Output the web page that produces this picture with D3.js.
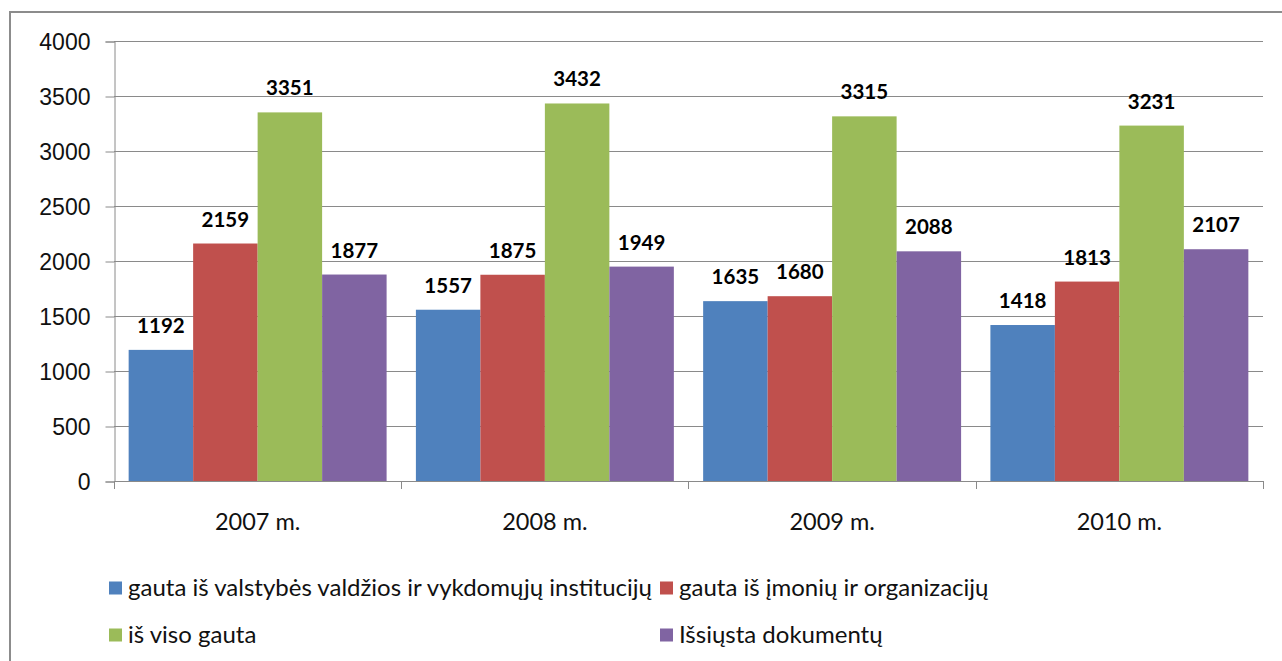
<!DOCTYPE html>
<html>
<head>
<meta charset="utf-8">
<script src="https://cdn.jsdelivr.net/npm/d3@7"></script>
<style>
  html, body { margin: 0; padding: 0; background: #fff; }
  svg { display: block; font-family: Lato, "Open Sans", sans-serif; }
</style>
</head>
<body>
<svg id="chart" width="1282" height="661"></svg>
<script>
// Document flow per year
const years = ["2007 m.", "2008 m.", "2009 m.", "2010 m."];
const seriesNames = [
  "gauta iš valstybės valdžios ir vykdomųjų institucijų",
  "gauta iš įmonių ir organizacijų",
  "iš viso gauta",
  "Išsiųsta dokumentų"
];
const fromGovernment = [1192, 1557, 1635, 1418];
const fromCompanies = [2159, 1875, 1680, 1813];
const totalReceived = [3351, 3432, 3315, 3231];
const sentDocuments = [1877, 1949, 2088, 2107];
const yTicks = [0, 500, 1000, 1500, 2000, 2500, 3000, 3500, 4000];
const colors = ["#4F81BD", "#C0504D", "#9BBB59", "#8064A2"];

const seriesValues = [fromGovernment, fromCompanies, totalReceived, sentDocuments];

const svg = d3.select("#chart");
const plot = { left: 114, right: 1263, top: 41, bottom: 481 };
const gridColor = "#8a8a8a";
const textColor = "#111";

// Outer chart frame
svg.append("rect")
  .attr("x", 10).attr("y", 12)
  .attr("width", 1290).attr("height", 700)
  .attr("fill", "none").attr("stroke", "#8c8c8c").attr("stroke-width", 2);

const y = d3.scaleLinear().domain([0, 4000]).range([plot.bottom, plot.top]);
const x0 = d3.scaleBand().domain(years).range([plot.left, plot.right])
  .paddingInner(0.102).paddingOuter(0.051);
const x1 = d3.scaleBand().domain(d3.range(seriesNames.length))
  .range([0, x0.bandwidth()]);

// Horizontal gridlines
svg.append("g").selectAll("line").data(yTicks).join("line")
  .attr("x1", plot.left).attr("x2", plot.right)
  .attr("y1", d => Math.round(y(d)) + 0.5).attr("y2", d => Math.round(y(d)) + 0.5)
  .attr("stroke", gridColor).attr("stroke-width", 1);

// Y axis
const yAxis = svg.append("g")
  .attr("transform", `translate(${plot.left + 0.5},0.5)`)
  .call(d3.axisLeft(y).tickValues(yTicks).tickSize(9).tickPadding(15).tickFormat(d3.format("d")));
yAxis.select(".domain").attr("stroke", gridColor);
yAxis.selectAll(".tick line").attr("stroke", gridColor);
yAxis.selectAll(".tick text")
  .attr("fill", textColor).style("font-size", "23px").attr("dy", "0.36em");

// Category separator ticks below the axis
const sepX = years.map(d => x0(d) - x0.step() * x0.paddingInner() / 2).concat([plot.right]);
sepX[0] = plot.left;
svg.append("g").selectAll("line").data(sepX).join("line")
  .attr("x1", d => Math.round(d) + 0.5).attr("x2", d => Math.round(d) + 0.5)
  .attr("y1", plot.bottom).attr("y2", plot.bottom + 8)
  .attr("stroke", gridColor);

// Category labels
svg.append("g").selectAll("text").data(years).join("text")
  .attr("x", d => x0(d) + x0.bandwidth() / 2)
  .attr("y", 530)
  .attr("text-anchor", "middle")
  .attr("fill", textColor)
  .style("font-size", "23.5px")
  .text(d => d);

// Bars and value labels
const groups = svg.append("g").selectAll("g").data(years).join("g")
  .attr("transform", d => `translate(${x0(d)},0)`);

groups.each(function (year, yi) {
  const g = d3.select(this);
  seriesValues.forEach((vals, si) => {
    const v = vals[yi];
    g.append("rect")
      .attr("x", x1(si)).attr("width", x1.bandwidth())
      .attr("y", y(v)).attr("height", plot.bottom - y(v))
      .attr("fill", colors[si]);
    g.append("text")
      .attr("x", x1(si) + x1.bandwidth() / 2)
      .attr("y", y(v) - 17)
      .attr("text-anchor", "middle")
      .attr("fill", "#000")
      .style("font-size", "20.5px").style("font-weight", "bold")
      .text(v);
  });
});

// Legend
const legendPos = [
  { x: 109, y: 588 }, { x: 660, y: 588 },
  { x: 109, y: 635 }, { x: 660, y: 635 }
];
const legend = svg.append("g").selectAll("g").data(seriesNames).join("g")
  .attr("transform", (d, i) => `translate(${legendPos[i].x},${legendPos[i].y})`);
legend.append("rect")
  .attr("x", 0).attr("y", -6.5).attr("width", 13).attr("height", 13)
  .attr("fill", (d, i) => colors[i]);
legend.append("text")
  .attr("x", 19).attr("y", 0).attr("dy", "0.35em")
  .attr("fill", textColor)
  .style("font-size", "24px")
  .text(d => d);
</script>
</body>
</html>
